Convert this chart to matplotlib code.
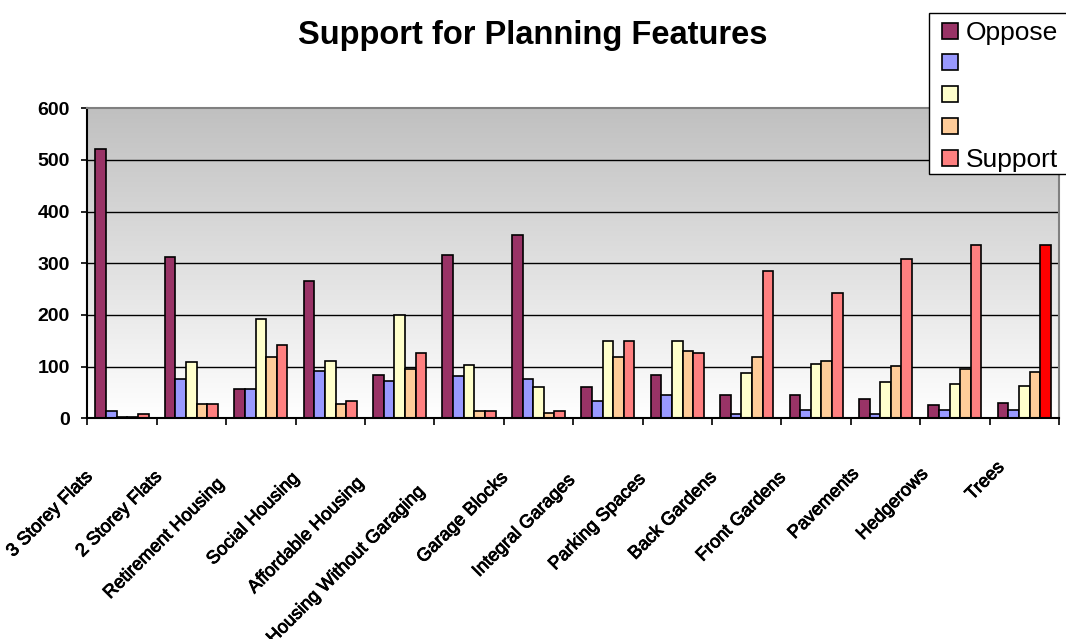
import numpy as np
import matplotlib
matplotlib.use('Agg')
import matplotlib.pyplot as plt
import matplotlib.patheffects as pe
from matplotlib.lines import Line2D
from matplotlib.patches import Rectangle
from matplotlib.transforms import ScaledTranslation

plt.rcParams['font.family'] = ['Liberation Sans', 'DejaVu Sans']

# Data
categories = ['3 Storey Flats', '2 Storey Flats', 'Retirement Housing', 'Social Housing',
              'Affordable Housing', 'Housing Without Garaging', 'Garage Blocks',
              'Integral Garages', 'Parking Spaces', 'Back Gardens', 'Front Gardens',
              'Pavements', 'Hedgerows', 'Trees']
series_names = ['Oppose', '', '', '', 'Support']
oppose = [522, 313, 57, 266, 84, 317, 355, 61, 84, 45, 45, 37, 25, 29]
level2 = [14, 77, 57, 92, 73, 81, 77, 34, 46, 9, 17, 9, 17, 17]
level3 = [3, 108, 193, 111, 200, 104, 61, 150, 150, 87, 106, 71, 67, 63]
level4 = [3, 27, 119, 27, 96, 14, 11, 119, 131, 118, 111, 102, 95, 90]
support = [8, 27, 142, 34, 127, 14, 15, 150, 127, 285, 243, 308, 335, 335]
yticks = [0, 100, 200, 300, 400, 500, 600]

colors = ['#993366', '#9999FF', '#FFFFCC', '#FFCC99', '#FF8080']
highlight = '#FF0000'

fig = plt.figure(figsize=(10.66, 6.39), dpi=100)
ax = fig.add_axes([87.3 / 1066, 1 - 418.3 / 639, (1059 - 87.3) / 1066, (418.3 - 108.3) / 639])

# gradient plot-area background (grey at top to white at bottom)
grad = np.linspace(192, 255, 256).reshape(-1, 1) / 255.0
ax.imshow(np.dstack([grad, grad, grad]), extent=[0, len(categories), 0, 600],
          aspect='auto', zorder=0, origin='upper')

x = np.arange(len(categories)) + 0.5
width = 0.153
all_series = [oppose, level2, level3, level4, support]
bars = []
for k, vals in enumerate(all_series):
    b = ax.bar(x + (k - 2) * width, vals, width, color=colors[k],
               edgecolor='black', linewidth=1.2, zorder=2)
    bars.append(b)
bars[4][-1].set_facecolor(highlight)

ax.set_xlim(0, len(categories))
ax.set_ylim(0, 600)
ax.set_yticks(yticks)
ax.set_yticklabels([str(v) for v in yticks], fontsize=14, fontweight='bold')
ax.set_xticks(np.arange(len(categories) + 1))
ax.set_xticklabels([])
ax.tick_params(axis='y', direction='out', length=4, width=1.2, pad=8.5)
ax.tick_params(axis='x', direction='out', length=5, width=1.2)

ax.set_axisbelow(True)
ax.yaxis.grid(True, color='black', linewidth=1.0)
gl = ax.get_ygridlines()
gl[0].set_visible(False)
gl[-1].set_visible(False)

for side in ['left', 'bottom']:
    ax.spines[side].set_color('black')
    ax.spines[side].set_linewidth(1.5)
for side in ['top', 'right']:
    ax.spines[side].set_color('#808080')
    ax.spines[side].set_linewidth(1.5)

fig.text(533 / 1066, 1 - 44 / 639, 'Support for Planning Features', ha='center',
         va='baseline', fontsize=23.5, fontweight='bold')

# rotated category labels
labels = []
for xi, name in zip(x, categories):
    t = ax.text(xi, 0, name, rotation=45, ha='right', va='top', fontsize=13.2,
                transform=ax.get_xaxis_transform(),
                path_effects=[pe.withStroke(linewidth=0.6, foreground='black')])
    labels.append(t)

fig.canvas.draw()
renderer = fig.canvas.get_renderer()
for t in labels:
    w = t.get_window_extent(renderer).width - 12
    dx = -(10 + 0.2 * w) / 100.0
    dy = -(34 + 0.2 * w) / 100.0
    t.set_transform(ax.get_xaxis_transform() + ScaledTranslation(dx, dy, fig.dpi_scale_trans))

# legend box runs past the right edge of the picture, as in the original
box = Rectangle((929 / 1066, 1 - 174 / 639), 160 / 1066, (174 - 12.7) / 639,
                transform=fig.transFigure, facecolor='white', edgecolor='black',
                linewidth=1.0, zorder=4)
fig.patches.append(box)

handles = [Line2D([], [], linestyle='none', marker='s', markersize=12,
                  markerfacecolor=c, markeredgecolor='black', markeredgewidth=1.2)
           for c in colors]
leg = fig.legend(handles, series_names, loc='upper left',
                 bbox_to_anchor=(929 / 1066, 1 - 15.5 / 639), fontsize=19,
                 frameon=False, borderpad=0.2, labelspacing=0.3,
                 handlelength=1.2, handletextpad=0.0, borderaxespad=0)
leg.set_zorder(5)

fig.savefig('out.png', dpi=100)
